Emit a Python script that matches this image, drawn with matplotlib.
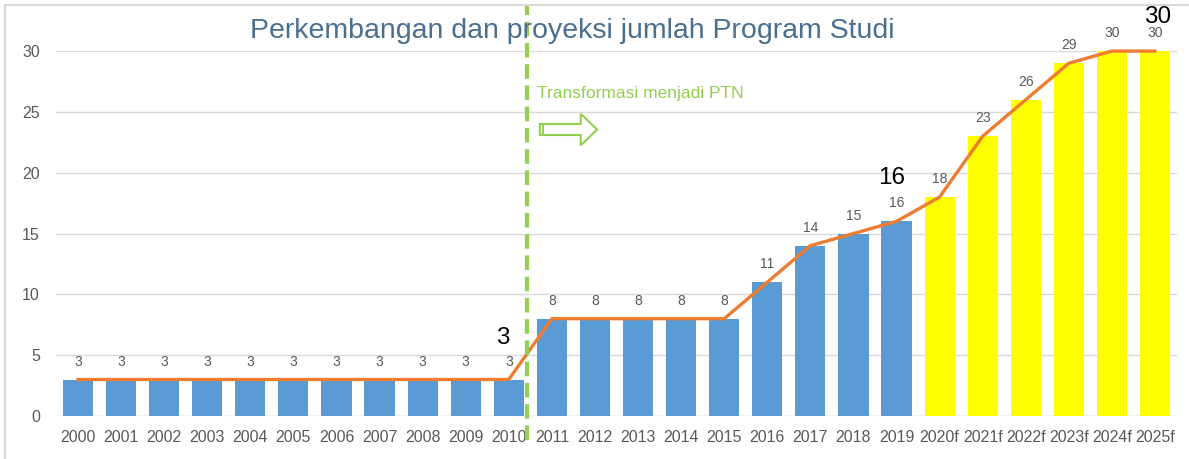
import numpy as np
import matplotlib
matplotlib.use("Agg")
from matplotlib import pyplot as plt
from matplotlib.patches import FancyArrow, Rectangle

plt.rcParams['font.family'] = ['Liberation Sans', 'DejaVu Sans']

tahun = ["2000", "2001", "2002", "2003", "2004", "2005", "2006", "2007", "2008", "2009",
         "2010", "2011", "2012", "2013", "2014", "2015", "2016", "2017", "2018", "2019",
         "2020f", "2021f", "2022f", "2023f", "2024f", "2025f"]
jumlah_prodi = [3, 3, 3, 3, 3, 3, 3, 3, 3, 3, 3, 8, 8, 8, 8, 8, 11, 14, 15, 16,
                18, 23, 26, 29, 30, 30]
n_aktual = 20  # 2000-2019 realisasi, sisanya proyeksi
sorotan = ["3", "16", "30"]
sorotan_idx = [10, 19, 25]

biru = "#5B9BD5"
kuning = "#FFFF00"
oranye = "#ED7D31"
hijau = "#92D050"
abu = "#595959"

fig = plt.figure(figsize=(11.89, 4.59), dpi=100)
ax = fig.add_axes([0.0475, 0.0937, 0.942, 0.795])

x = np.arange(len(tahun))
warna = [biru if i < n_aktual else kuning for i in range(len(tahun))]
ax.bar(x, jumlah_prodi, width=0.7, color=warna, zorder=2)
ax.plot(x, jumlah_prodi, color=oranye, lw=2.4, zorder=3, clip_on=False)

for i, v in enumerate(jumlah_prodi):
    ax.text(i, v + 0.9, str(v), ha="center", va="bottom", fontsize=10, color=abu, zorder=4)

# label besar untuk titik penting
geser_x = [-0.14, -0.12, 0.05]
geser_y = [3.4, 3.6, 2.8]
for s, i, dx, dy in zip(sorotan, sorotan_idx, geser_x, geser_y):
    ax.text(i + dx, jumlah_prodi[i] + dy, s, ha="center", va="center",
            fontsize=17.5, color="black", zorder=4, clip_on=False)

ax.set_xlim(-0.5, len(tahun) - 0.5)
ax.set_ylim(0, 30)
ax.set_yticks(range(0, 31, 5))
ax.set_xticks(x)
ax.set_xticklabels(tahun)
ax.tick_params(axis="both", length=0, labelsize=11.5, colors=abu)
ax.tick_params(axis="x", pad=10)
ax.tick_params(axis="y", pad=12)
ax.grid(axis="y", color="#D9D9D9", lw=1, zorder=0)
for s in ax.spines.values():
    s.set_visible(False)
ax.axhline(0, color="#D9D9D9", lw=1, zorder=1)

# garis transformasi
ax.plot([10.42, 10.42], [-2.0, 33.8], color=hijau, lw=3, ls=(0, (3.5, 1.6)),
        clip_on=False, zorder=5)
ax.text(10.66, 26.5, "Transformasi menjadi PTN", color=hijau, fontsize=12.5,
        ha="left", va="center")
ax.add_patch(FancyArrow(10.72, 23.55, 0.95, 0, width=0.9, head_width=2.6,
                        head_length=0.38, length_includes_head=False,
                        fill=False, edgecolor=hijau, lw=1.5, zorder=5))
ax.plot([10.8, 10.8], [23.1, 24.0], color=hijau, lw=1.5, zorder=5)

fig.text(0.481, 0.933, "Perkembangan dan proyeksi jumlah Program Studi",
         ha="center", va="center", fontsize=20.5, color="#4A6F8F")

fig.patches.append(Rectangle((0.004, -0.01), 1.0, 0.999, transform=fig.transFigure,
                             fill=False, edgecolor="#D9D9D9", lw=1.5))

fig.savefig("out.png", dpi=100)
